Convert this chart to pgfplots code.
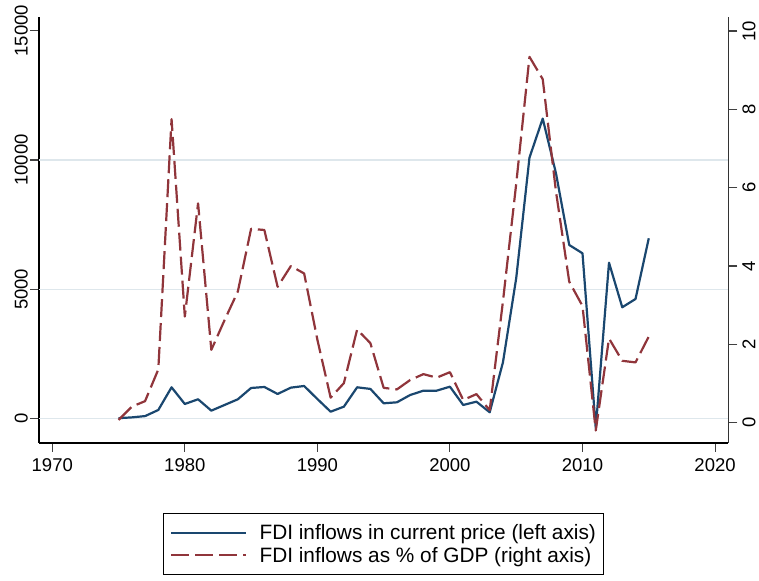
\documentclass[border=0pt]{standalone}
\usepackage{fontspec}
\setmainfont{Liberation Sans}
\usepackage{pgfplots}
\usepackage{pgfplotstable}
\pgfplotsset{compat=1.18}
\definecolor{stnavy}{RGB}{26,71,111}
\definecolor{stmaroon}{RGB}{144,53,59}
\definecolor{stgrid}{RGB}{222,231,236}

\pgfplotstableread{
year fdi pct
1975 20 0.07
1976 50 0.41
1977 100 0.55
1978 336 1.36
1979 1213 7.75
1980 568 2.71
1981 750 5.60
1982 310 1.86
1983 530 2.62
1984 750 3.35
1985 1187 4.95
1986 1225 4.92
1987 955 3.47
1988 1200 4.00
1989 1264 3.81
1990 760 2.12
1991 270 0.64
1992 465 1.01
1993 1213 2.38
1994 1150 2.03
1995 595 0.89
1996 633 0.85
1997 915 1.09
1998 1083 1.24
1999 1083 1.15
2000 1237 1.29
2001 530 0.58
2002 657 0.73
2003 247 0.32
2004 2180 3.10
2005 5430 6.10
2006 10090 9.34
2007 11600 8.77
2008 9485 5.90
2009 6714 3.60
2010 6393 2.98
2011 -371 -0.20
2012 6030 2.15
2013 4306 1.58
2014 4627 1.54
2015 6973 2.20
}\datatable

\newcommand{\tfont}{\fontsize{18.5}{21}\selectfont}
\newcommand{\lfont}{\fontsize{20.8}{22}\selectfont}

\begin{document}
\begin{tikzpicture}[x=1pt,y=1pt]
\path[use as bounding box] (0,0) rectangle (759,580);
\begin{axis}[
  at={(39pt,137pt)}, anchor=south west,
  scale only axis, width=689.3pt, height=425.7pt,
  xmin=1969, xmax=2021, ymin=-940, ymax=15516,
  axis x line*=bottom, axis y line*=left,
  axis line style={-, line width=1.1pt, black},
  xtick={1970,1980,...,2020}, ytick={0,5000,10000,15000},
  scaled y ticks=false, scaled x ticks=false,
  tick align=outside, major tick length=9pt,
  tick style={line width=1.1pt, black!75},
  /pgf/number format/assume math mode=true,
  /pgf/number format/1000 sep={},
  ticklabel style={font=\tfont},
  xticklabel style={inner sep=0pt, yshift=-6pt},
  yticklabel style={rotate=90, anchor=south, inner sep=0pt},
  yticklabel shift=2pt,
  extra y ticks={0,5000,10000}, extra y tick labels={},
  extra y tick style={grid=major, major grid style={stgrid, line width=1.6pt}, major tick length=0pt},
]
\addplot[stnavy, line width=2.2pt, line join=round] table[x=year, y=fdi] {\datatable};
\end{axis}
\begin{axis}[
  at={(39pt,137pt)}, anchor=south west,
  scale only axis, width=689.3pt, height=425.7pt,
  xmin=1969, xmax=2021, ymin=-0.518, ymax=10.35,
  axis x line=none, axis y line*=right,
  axis line style={-, line width=1.1pt, black!80},
  ytick={0,2,4,6,8,10},
  tick align=outside, major tick length=9pt,
  tick style={line width=1.1pt, black!75},
  /pgf/number format/assume math mode=true,
  ticklabel style={font=\tfont},
  yticklabel style={rotate=90, anchor=north, inner sep=0pt},
  yticklabel shift=5pt,
  legend style={at={(0.5,-0.1644)}, anchor=north, draw=black, line width=0.9pt,
    font=\lfont, inner xsep=7pt, inner ysep=10pt, row sep=4pt,
    nodes={inner sep=1pt},
    /tikz/every odd column/.append style={column sep=11pt}},
  legend cell align=left,
  legend image code/.code={\draw[#1] (0pt,0pt) -- (75pt,0pt);},
]
\addlegendimage{stnavy, line width=2.2pt}
\addlegendentry{FDI inflows in current price (left axis)}
\addplot[stmaroon, line width=2.2pt, dash pattern=on 18pt off 6pt, line join=round] table[x=year, y=pct] {\datatable};
\addlegendentry{FDI inflows as \% of GDP (right axis)}
\end{axis}
\end{tikzpicture}
\end{document}
